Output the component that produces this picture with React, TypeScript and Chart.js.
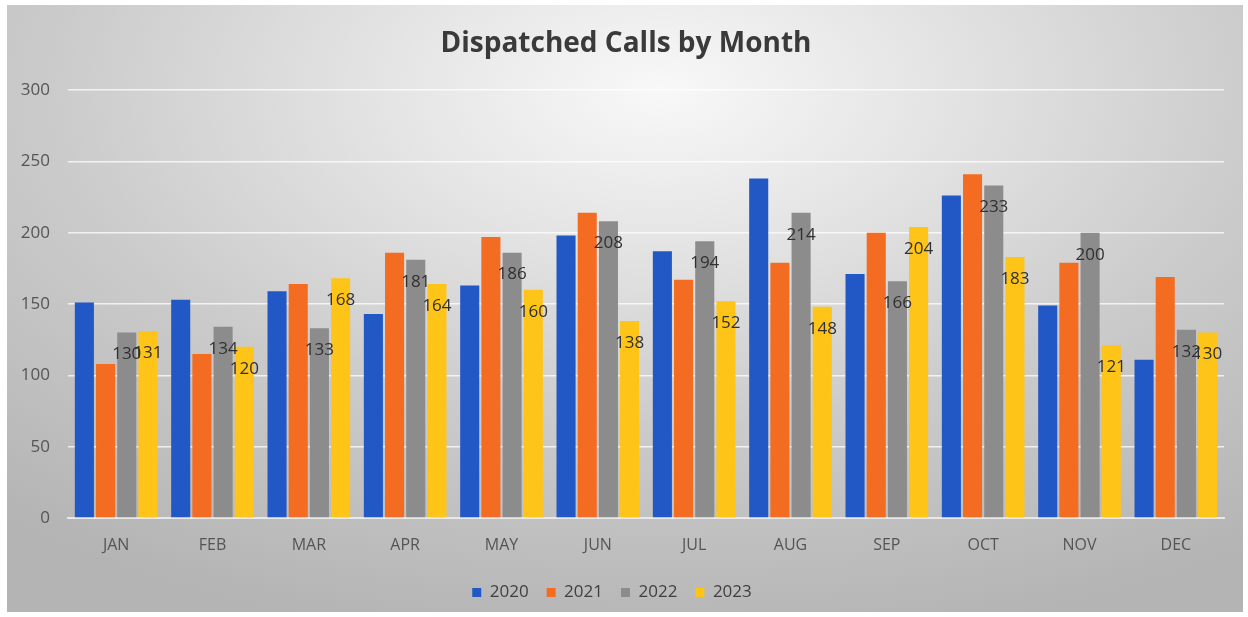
import React, { useEffect, useRef } from "react";
import { Chart, registerables } from "chart.js";

Chart.register(...registerables);

const months = ["JAN", "FEB", "MAR", "APR", "MAY", "JUN", "JUL", "AUG", "SEP", "OCT", "NOV", "DEC"];
const years = ["2020", "2021", "2022", "2023"];
const calls2020 = [151, 153, 159, 143, 163, 198, 187, 238, 171, 226, 149, 111];
const calls2021 = [108, 115, 164, 186, 197, 214, 167, 179, 200, 241, 179, 169];
const calls2022 = [130, 134, 133, 181, 186, 208, 194, 214, 166, 233, 200, 132];
const calls2023 = [131, 120, 168, 164, 160, 138, 152, 148, 204, 183, 121, 130];
const yTicks = [0, 50, 100, 150, 200, 250, 300];
const colors = ["#2258c6", "#f36c22", "#8c8c8c", "#fec418"];
const labelledSeries = [2, 3];

const bgPlugin = {
  id: "bg",
  beforeDraw(chart: any) {
    const { ctx, width, height } = chart;
    ctx.save();
    ctx.fillStyle = "#ffffff";
    ctx.fillRect(0, 0, width, height);
    ctx.beginPath();
    ctx.rect(7, 5, width - 12, height - 10);
    ctx.clip();
    ctx.translate(660, 90);
    ctx.scale(1.8, 1);
    const g = ctx.createRadialGradient(0, 0, 0, 0, 0, 560);
    g.addColorStop(0, "#f8f8f8");
    g.addColorStop(0.25, "#e6e6e6");
    g.addColorStop(0.6, "#cbcbcb");
    g.addColorStop(1, "#b4b4b4");
    ctx.fillStyle = g;
    ctx.fillRect(-500, -200, 1000, 800);
    ctx.restore();
  },
  afterDraw(chart: any) {
    const { ctx } = chart;
    ctx.save();
    ctx.fillStyle = "#3a3a3a";
    ctx.font = "bold 28px 'Open Sans'";
    ctx.textAlign = "center";
    ctx.textBaseline = "middle";
    ctx.fillText("Dispatched Calls by Month", 626, 44);
    ctx.font = "17px 'Open Sans'";
    ctx.fillStyle = "#303030";
    labelledSeries.forEach((di) => {
      const meta = chart.getDatasetMeta(di);
      meta.data.forEach((bar: any, i: number) => {
        const v = chart.data.datasets[di].data[i];
        ctx.fillText(String(v), bar.x, bar.y + 22);
      });
    });
    ctx.restore();
  },
};

export default function App() {
  const ref = useRef<HTMLCanvasElement>(null);
  useEffect(() => {
    document.body.style.margin = "0";
    const series = [calls2020, calls2021, calls2022, calls2023];
    const chart = new Chart(ref.current!, {
      type: "bar",
      data: {
        labels: months,
        datasets: years.map((y, i) => ({
          label: y,
          data: series[i],
          backgroundColor: colors[i],
          borderWidth: 0,
        })),
      },
      options: {
        animation: false,
        responsive: false,
        datasets: { bar: { categoryPercentage: 0.88, barPercentage: 0.9 } },
        layout: { padding: { top: 90, right: 24, bottom: 6, left: 0 } },
        plugins: {
          title: { display: false },
          tooltip: { enabled: false },
          legend: {
            position: "bottom",
            labels: {
              boxWidth: 9,
              boxHeight: 9,
              padding: 18,
              color: "#404040",
              font: { family: "'Open Sans'", size: 17 },
            },
          },
        },
        scales: {
          x: {
            grid: { display: false, drawTicks: false },
            border: { color: "#e8e8e8", width: 2 },
            ticks: { color: "#555555", font: { family: "'Open Sans'", size: 16 }, padding: 18 },
            afterFit: (s: any) => { s.height = 48; },
          },
          y: {
            min: 0,
            max: 300,
            afterBuildTicks: (s: any) => { s.ticks = yTicks.map((v) => ({ value: v })); },
            grid: { color: "rgba(255,255,255,0.75)", lineWidth: 1.5, drawTicks: false },
            border: { display: false },
            ticks: { color: "#555555", font: { family: "'Open Sans'", size: 17 }, padding: 18 },
            afterFit: (s: any) => { s.width = 68; },
          },
        },
      },
      plugins: [bgPlugin],
    });
    return () => chart.destroy();
  }, []);
  return <canvas ref={ref} width={1248} height={617} style={{ display: "block" }} />;
}
